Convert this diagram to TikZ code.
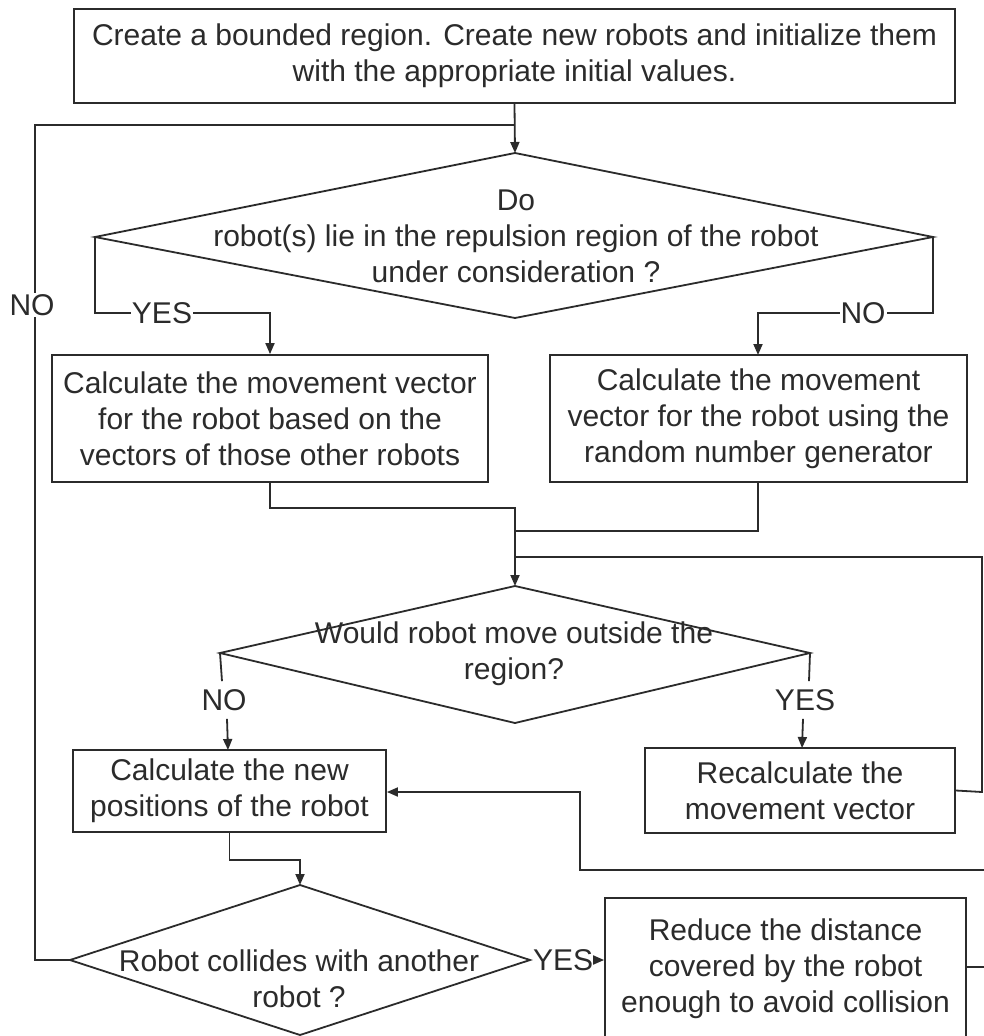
\documentclass[tikz,border=0pt]{standalone}
\usepackage{fontspec}
\setmainfont{Liberation Sans}
\usetikzlibrary{arrows.meta}
\definecolor{ink}{HTML}{2B2B2B}
\begin{document}
\begin{tikzpicture}[x=1pt,y=-1pt,
  every node/.style={font=\fontsize{30}{36}\selectfont, text=ink},
  proc/.style={draw=ink, line width=1.8pt, align=center, inner sep=0pt, fill=white},
  lbl/.style={fill=white, inner sep=1pt},
  link/.style={draw=ink, line width=1.8pt},
  arr/.style={link, -{Triangle[length=11pt,width=9pt]}},
  dec/.style={draw=ink, line width=1.8pt, line join=miter},
]
\fill[white] (0,0) rectangle (984,1036);
\useasboundingbox (0,0) rectangle (984,1036);

% process boxes
\node[proc, minimum width=881pt, minimum height=94pt] (init) at (514.5,56)
  {Create a bounded region. Create new robots and initialize them\\with the appropriate initial values.};
\node[proc, minimum width=436pt, minimum height=127pt] (calcA) at (270,418.5)
  {Calculate the movement vector\\for the robot based on the\\vectors of those other robots};
\node[proc, minimum width=417pt, minimum height=127pt] (calcB) at (758.5,418.5)
  {Calculate the movement\\vector for the robot using the\\random number generator};
\node[proc, minimum width=313pt, minimum height=82pt] (newpos) at (229.5,791)
  {Calculate the new\\positions of the robot};
\node[proc, minimum width=310pt, minimum height=85pt] (recalc) at (800,790.5)
  {Recalculate the\\movement vector};
\node[proc, minimum width=361pt, minimum height=142pt] (reduce) at (785.5,969)
  {Reduce the distance\\covered by the robot\\enough to avoid collision};

% decision 1
\coordinate (d1t) at (515,153);
\coordinate (d1l) at (95,237);
\coordinate (d1r) at (933,237);
\coordinate (d1b) at (515,318);
\draw[dec] (d1t) -- (d1r) -- (d1b) -- (d1l) -- cycle;
\node[align=center] (q1) at (516,236)
  {Do\\robot(s) lie in the repulsion region of the robot\\under consideration ?};

% decision 2
\coordinate (d2t) at (515,586);
\coordinate (d2l) at (220,653);
\coordinate (d2r) at (810,653);
\coordinate (d2b) at (515,723);
\draw[dec] (d2t) -- (d2r) -- (d2b) -- (d2l) -- cycle;
\node[align=center] (q2) at (514,653.5)
  {Would robot move outside the\\region?};

% decision 3
\coordinate (d3t) at (300,885);
\coordinate (d3l) at (70,960);
\coordinate (d3r) at (530,960);
\coordinate (d3b) at (300,1035);
\draw[dec] (d3t) -- (d3r) -- (d3b) -- (d3l) -- cycle;
\node[align=center] (q3) at (299,978.5)
  {Robot collides with another\\robot ?};

% connectors
\draw[arr] (init.south) -- (d1t);
\draw[link] (d3l) -- (35,960) -- (35,125) -- (514.5,125);

\draw[arr] (d1l) -- (95,313) -- (270,313) -- (calcA.north);
\draw[arr] (d1r) -- (933,313) -- (758,313) -- (758,355);

\draw[arr] (calcA.south) -- (270,508) -- (515,508) -- (d2t);
\draw[link] (758,482) -- (758,531) -- (515,531);
\draw[link] (recalc.east) -- (982,792) -- (982,557) -- (515,557);

\draw[arr] (newpos.south) -- (229.5,860) -- (300,860) -- (d3t);
\draw[arr] (reduce.east |- 0,967) -- (1010,967) -- (1010,870) -- (580,870) -- (580,792) -- (newpos.east |- 0,792);

% branch labels
\node[lbl] (no1) at (32,305) {NO};
\node[lbl] (yes1) at (162,313) {YES};
\node[lbl] (no2) at (863,313) {NO};

\node[inner sep=0pt] (no3) at (224,700) {NO};
\draw[link] (d2l) -- ([xshift=-2pt,yshift=8pt]no3.north);
\draw[arr] ([xshift=3pt,yshift=-8pt]no3.south) -- (228,750);

\node[inner sep=0pt] (yes2) at (805,700) {YES};
\draw[link] (d2r) -- ([xshift=4pt,yshift=8pt]yes2.north);
\draw[arr] ([xshift=-2pt,yshift=-8pt]yes2.south) -- (802,748);

\node[inner sep=0pt, anchor=west] (yes3) at (533,960) {YES};
\draw[arr] (yes3.east) -- (reduce.west |- 0,960);
\end{tikzpicture}
\end{document}
